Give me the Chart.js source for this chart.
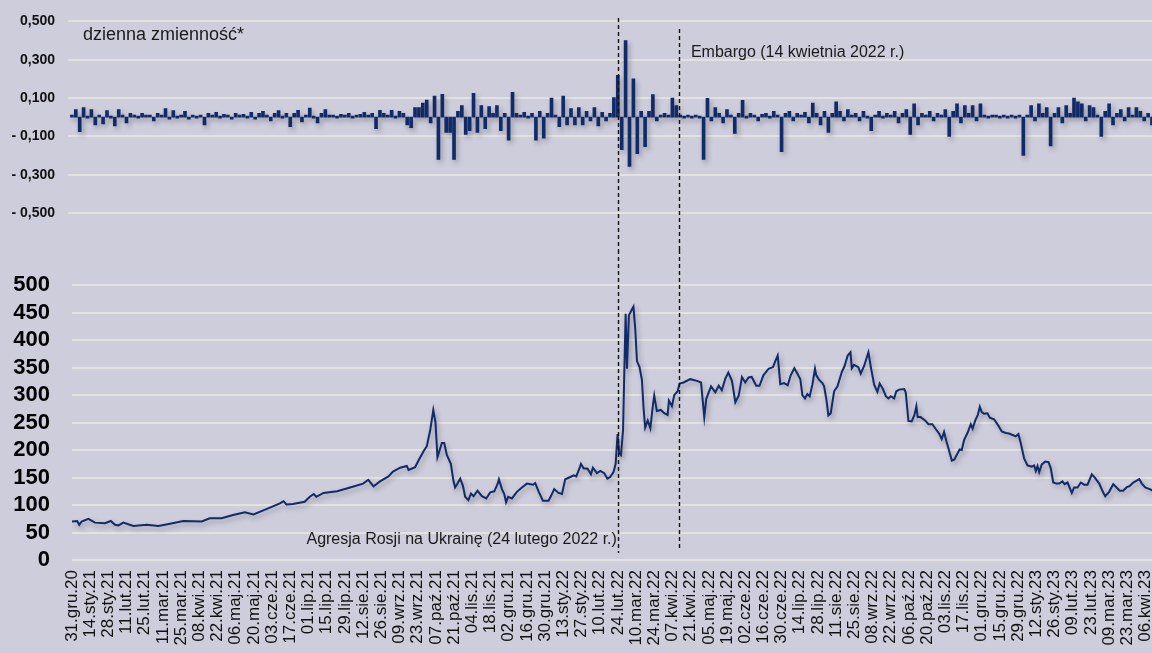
<!DOCTYPE html>
<html lang="pl">
<head>
<meta charset="utf-8">
<title>Ceny węgla – dzienna zmienność</title>
<script src="https://cdn.jsdelivr.net/npm/chart.js@4.4.1/dist/chart.umd.min.js"></script>
<style>
    html, body { margin: 0; padding: 0; background: #cecddb; overflow: hidden; }
    #wrap { position: relative; width: 1152px; height: 653px; }
    #gora { position: absolute; left: 0; top: 0; width: 1152px; height: 250px; }
    #dol { position: absolute; left: 0; top: 250px; width: 1152px; height: 403px; }
</style>
</head>
<body>
<div id="wrap">
    <div id="gora"><canvas id="zmiennosc"></canvas></div>
    <div id="dol"><canvas id="cena"></canvas></div>
</div>
<script>
// Etykiety osi X (co 14 dni od 31.12.2020)
const etykietyDat = [
    "31.gru.20", "14.sty.21", "28.sty.21", "11.lut.21", "25.lut.21", "11.mar.21", "25.mar.21",
    "08.kwi.21", "22.kwi.21", "06.maj.21", "20.maj.21", "03.cze.21", "17.cze.21", "01.lip.21",
    "15.lip.21", "29.lip.21", "12.sie.21", "26.sie.21", "09.wrz.21", "23.wrz.21", "07.paź.21",
    "21.paź.21", "04.lis.21", "18.lis.21", "02.gru.21", "16.gru.21", "30.gru.21", "13.sty.22",
    "27.sty.22", "10.lut.22", "24.lut.22", "10.mar.22", "24.mar.22", "07.kwi.22", "21.kwi.22",
    "05.maj.22", "19.maj.22", "02.cze.22", "16.cze.22", "30.cze.22", "14.lip.22", "28.lip.22",
    "11.sie.22", "25.sie.22", "08.wrz.22", "22.wrz.22", "06.paź.22", "20.paź.22", "03.lis.22",
    "17.lis.22", "01.gru.22", "15.gru.22", "29.gru.22", "12.sty.23", "26.sty.23", "09.lut.23",
    "23.lut.23", "09.mar.23", "23.mar.23", "06.kwi.23",
];
const krokEtykiet = 14; // dni
const ostatniDzien = 831;

// Cena (dzień liczony od 31.12.2020, wartość)
const dniCeny = [
    0, 4, 5.6, 7.4, 12.6, 17.7, 25.4, 29.8, 33.1, 35.7, 39.5, 47.2, 57.5, 66.5, 75.4, 85.7, 99.8,
    106, 115, 124, 133, 139.6, 150, 160, 162.7, 165, 170, 179, 183, 186, 188, 193.5, 204, 214,
    224, 228, 232, 237, 243.5, 247, 252.5, 257.6, 259, 264, 266.6, 270.5, 273, 275.6, 278, 279.7,
    281.2, 284.6, 286.4, 288.4, 291.5, 293.5, 294.8, 296.6, 298.7, 300.8, 302.5, 305, 307, 309,
    312, 315.4, 318.7, 321.8, 324.9, 327.4, 328.5, 330.8, 332.6, 334, 335.6, 338.5, 342.3, 346.2,
    350, 354.7, 356.4, 359, 362.3, 366.7, 369.3, 371, 374.4, 377, 379.5, 383.4, 386, 388, 390.5,
    391.6, 393.6, 396.7, 399.3, 400.8, 403.9, 406.5, 409.5, 412, 414, 416.7, 418.3, 419.8, 421,
    422.4, 424, 425, 426, 427, 428.5, 430.6, 432, 433.4, 434.7, 436.7, 438.5, 439.8, 441, 443,
    445, 447, 448, 450, 453, 455.7, 458.3, 459.3, 461.6, 463.4, 466, 467.5, 470.6, 475.7, 480.9,
    484, 486.5, 488, 491.7, 495, 497.6, 500, 502.7, 505, 507.8, 510.4, 513, 515.5, 518, 520.6,
    523, 526.5, 529, 532, 536, 539.4, 541, 543, 545, 548, 550.7, 553, 555.8, 558, 560.4, 562,
    564, 565.8, 567.6, 569.7, 571.7, 572.7, 574.8, 577.4, 578.7, 580.4, 582, 583.8, 586.4, 589,
    592.3, 594.3, 596.9, 599, 600, 601.7, 605, 606.9, 609.5, 612.8, 614.6, 617.2, 619.7, 621.5,
    624, 626.2, 628.2, 630, 632.6, 634.3, 636.4, 640.3, 641.5, 643.6, 646.1, 648.2, 649.7, 650.7,
    653, 656.4, 659, 662, 665, 667.2, 669.2, 671, 672.8, 675, 677, 679, 680.5, 683, 684.6, 686.4,
    689, 691.6, 693, 695, 697, 698.5, 700, 701.8, 704.4, 706.2, 709.5, 712.9, 715.4, 718.5, 721,
    724.2, 726.2, 728.2, 730, 732.6, 735.2, 738.5, 740.3, 741.6, 742.9, 744.2, 746.2, 748.8,
    751.4, 753.1, 755, 757.5, 759.6, 762.1, 763.7, 766, 769.3, 771.1, 773.7, 776.2, 778.8, 781.4,
    784.7, 787.3, 790.4, 793, 795, 798, 801.2, 803.7, 806.2, 808.8, 811.4, 814, 816.6, 821.2,
    823.2, 825.8, 830.1, 831.4,
];
const wartosciCeny = [
    70, 71, 64, 70, 75, 68, 67, 71, 64, 63, 68, 62, 64, 62, 66, 71, 70,
    76, 76, 82, 87, 83, 93, 103, 107, 101, 102, 106, 115, 120, 115, 122, 125, 132,
    139, 146, 134, 143, 152, 161, 168, 171, 164, 169, 181, 198, 207, 236, 273, 250,
    187, 213, 213, 191, 175, 144, 132, 139, 148, 135, 115, 109, 121, 116,
    126, 116, 112, 123, 125, 138, 147, 129, 120, 105, 115, 112, 124, 132,
    139, 137, 140, 125, 108, 108, 120, 129, 122, 120, 147, 151, 154, 152, 167,
    175, 167, 166, 156, 168, 158, 162, 158, 148, 151, 160, 175, 229, 195,
    191, 236, 345, 448, 348, 445, 455, 461, 420, 362, 351, 328, 276, 241, 254,
    240, 282, 299, 271, 273, 267, 264, 290, 280, 300, 307, 321, 323, 329, 326,
    323, 260, 293, 316, 305, 317, 309, 330, 341, 326, 287, 299, 333, 323, 332,
    333, 317, 317, 336, 348, 351, 361, 372, 320, 322, 318, 336, 349, 340, 329, 300,
    294, 302, 298, 319, 348, 336, 328, 322, 316, 293, 263, 267, 307, 316,
    342, 352, 372, 378, 349, 355, 351, 339, 353, 378, 352, 319, 306, 321,
    311, 298, 294, 298, 294, 307, 310, 311, 305, 253, 252, 264, 280, 260,
    260, 254, 247, 247, 237, 230, 220, 233, 216, 198, 181, 183, 190, 201, 200, 218,
    231, 247, 239, 254, 264, 279, 269, 266, 267, 259, 256, 244, 234, 231, 230,
    227, 225, 229, 213, 185, 172, 170, 172, 162, 171, 160, 174, 179,
    178, 167, 141, 139, 139, 143, 138, 141, 122, 132, 132, 141, 137, 137,
    156, 149, 139, 125, 116, 124, 138, 132, 126, 126, 132, 135, 141, 147,
    139, 132, 128, 126,
];
const tickiCeny = [0, 50, 100, 150, 200, 250, 300, 350, 400, 450, 500];

// Dzienna zmienność (co 3 dni)
const krokZmiennosci = 3;
const wartosciZmiennosci = [
    0.01, 0.04, -0.076, 0.05, 0.0, 0.04, -0.04, 0.01, -0.035, 0.035,
    0.0, -0.045, 0.04, 0.01, -0.03, 0.02, 0.01, 0.0, 0.02, 0.005,
    0.01, -0.02, 0.02, 0.01, 0.045, -0.01, 0.035, 0.0, 0.01, 0.03,
    -0.01, 0.01, 0.0, 0.005, -0.04, 0.02, 0.01, 0.025, 0.0, 0.015,
    0.01, -0.01, 0.02, 0.005, 0.015, 0.0, 0.025, -0.005, 0.02, 0.03,
    0.01, -0.02, 0.02, 0.035, 0.0, 0.02, -0.05, 0.02, 0.036, -0.024,
    0.01, 0.047, 0.0, -0.03, 0.02, 0.04, 0.005, 0.01, 0.0, 0.015,
    0.005, 0.02, 0.0, 0.01, 0.015, 0.025, 0.005, 0.02, -0.06, 0.036,
    0.02, 0.01, 0.036, 0.0, 0.03, 0.02, -0.04, -0.055, 0.05, 0.05,
    0.074, 0.09, -0.03, 0.11, -0.22, 0.12, -0.08, -0.08, -0.22, 0.03,
    0.06, -0.09, -0.07, 0.124, -0.08, 0.06, -0.06, 0.055, 0.02, 0.06,
    -0.07, 0.02, -0.12, 0.13, 0.02, 0.01, 0.025, 0.0, 0.02, -0.12,
    0.03, -0.11, 0.02, 0.1, 0.01, -0.05, 0.11, -0.04, 0.045, -0.04,
    0.05, -0.04, 0.03, -0.02, 0.05, -0.045, 0.025, -0.02, 0.02, 0.103,
    0.218, -0.17, 0.4, -0.257, 0.2, -0.19, 0.03, -0.154, 0.03, 0.118,
    -0.02, 0.01, 0.02, 0.01, 0.1, 0.06, 0.005, 0.0, 0.005, 0.0,
    0.005, 0.0, -0.22, 0.098, -0.02, 0.05, 0.02, -0.03, 0.04, 0.01,
    -0.085, 0.02, 0.088, 0.0, 0.02, 0.01, -0.02, 0.015, 0.02, 0.0,
    0.03, 0.01, -0.18, 0.02, 0.03, -0.02, 0.02, 0.01, 0.025, -0.03,
    0.074, 0.02, -0.04, 0.03, -0.08, 0.02, 0.08, 0.03, -0.02, 0.04,
    0.01, 0.02, -0.02, 0.03, 0.0, -0.07, 0.01, 0.03, 0.0, 0.02,
    0.01, 0.03, -0.03, 0.02, 0.04, -0.09, 0.07, -0.04, 0.02, 0.01,
    0.03, -0.02, 0.02, 0.01, 0.04, -0.1, 0.03, 0.07, -0.03, 0.06,
    0.02, 0.06, -0.02, 0.07, 0.01, 0.0, 0.01, 0.005, 0.0, 0.01,
    0.0, 0.005, 0.0, 0.01, -0.2, 0.01, 0.06, -0.02, 0.07, 0.02,
    0.05, -0.15, 0.02, 0.05, -0.03, 0.06, 0.02, 0.1, 0.08, 0.07,
    -0.02, 0.06, 0.05, 0.01, -0.1, 0.03, 0.07, -0.04, 0.02, 0.04,
    -0.02, 0.05, 0.01, 0.05, 0.03, -0.02, 0.02, -0.04,
];

// Podziałka górnego wykresu
const tickiZmiennosci = [0.5, 0.3, 0.1, -0.1, -0.3, -0.5];
const etykietyZmiennosci = ["0,500", "0,300", "0,100", "- 0,100", "- 0,300", "- 0,500"];

// Zdarzenia (dzień od 31.12.2020)
const dzienAgresji = 420;
const dzienEmbargo = 467;
const opisAgresji = "Agresja Rosji na Ukrainę (24 lutego 2022 r.)";
const opisEmbargo = "Embargo (14 kwietnia 2022 r.)";
const opisZmiennosci = "dzienna zmienność*";

const GRANAT = "#112a68";
const SIATKA = "#e3e2de";
const FONT = "'Liberation Sans', Arial, sans-serif";

Chart.defaults.font.family = FONT;
Chart.defaults.color = "#111";

// Cień pod seriami
const cien = {
    id: "cien",
    beforeDatasetsDraw(chart) {
        const c = chart.ctx;
        c.save();
        c.shadowColor = "rgba(40, 40, 60, 0.35)";
        c.shadowBlur = 5;
        c.shadowOffsetX = 2;
        c.shadowOffsetY = 3;
    },
    afterDatasetsDraw(chart) {
        chart.ctx.restore();
    },
};

// Linie przerywane i opisy
function zdarzenia(linie, teksty) {
    return {
        id: "zdarzenia",
        afterDatasetsDraw(chart) {
            const c = chart.ctx;
            const x = chart.scales.x;
            c.save();
            c.strokeStyle = "#111";
            c.lineWidth = 1.4;
            c.setLineDash([4, 3]);
            linie.forEach((l) => {
                const px = Math.round(x.getPixelForValue(l.dzien)) + 0.5;
                c.beginPath();
                c.moveTo(px, l.od);
                c.lineTo(px, l.do);
                c.stroke();
            });
            c.setLineDash([]);
            c.fillStyle = "#1a1a1a";
            c.textBaseline = "middle";
            teksty.forEach((t) => {
                const px = t.dzien !== undefined ? x.getPixelForValue(t.dzien) + t.dx : t.x;
                c.font = (t.size || 16) + "px " + FONT;
                c.textAlign = t.align || "left";
                c.fillText(t.tekst, px, t.y);
            });
            c.restore();
        },
    };
}

// Górny wykres – zmienność
new Chart(document.getElementById("zmiennosc"), {
    type: "bar",
    data: {
        datasets: [
            {
                data: wartosciZmiennosci.map((v, i) => ({ x: i * krokZmiennosci, y: v })),
                backgroundColor: GRANAT,
                barThickness: 3,
                minBarLength: 2,
            },
        ],
    },
    options: {
        responsive: true,
        maintainAspectRatio: false,
        animation: false,
        layout: { padding: { top: 20, bottom: 37, left: 0, right: 0 } },
        plugins: { legend: { display: false }, tooltip: { enabled: false } },
        scales: {
            x: {
                type: "linear",
                min: -3,
                max: ostatniDzien,
                offset: false,
                display: false,
                grid: { display: false, offset: false },
            },
            y: {
                min: -0.5,
                max: 0.5,
                afterBuildTicks: (s) => { s.ticks = tickiZmiennosci.map((v) => ({ value: v })); },
                afterFit: (s) => { s.width = 68; },
                border: { display: false },
                grid: { color: SIATKA, lineWidth: 2, drawTicks: false },
                ticks: {
                    padding: 13,
                    color: "#111",
                    font: { size: 14, weight: "bold" },
                    callback: (v, i) => etykietyZmiennosci[i],
                },
            },
        },
    },
    plugins: [
        cien,
        zdarzenia(
            [
                { dzien: dzienAgresji, od: 18, do: 250 },
                { dzien: dzienEmbargo, od: 29, do: 250 },
            ],
            [
                { tekst: opisZmiennosci, x: 83, y: 35, size: 18 },
                { tekst: opisEmbargo, dzien: dzienEmbargo, dx: 12, y: 53 },
            ]
        ),
    ],
});

// Dolny wykres – cena
new Chart(document.getElementById("cena"), {
    type: "line",
    data: {
        datasets: [
            {
                data: dniCeny.map((d, i) => ({ x: d, y: wartosciCeny[i] })),
                borderColor: GRANAT,
                borderWidth: 2,
                pointRadius: 0,
                tension: 0,
                fill: false,
            },
        ],
    },
    options: {
        responsive: true,
        maintainAspectRatio: false,
        animation: false,
        layout: { padding: { top: 20, bottom: 0, left: 0, right: 0 } },
        plugins: { legend: { display: false }, tooltip: { enabled: false } },
        scales: {
            x: {
                type: "linear",
                min: 0,
                max: ostatniDzien,
                afterBuildTicks: (s) => { s.ticks = etykietyDat.map((_, i) => ({ value: i * krokEtykiet })); },
                afterFit: (s) => { s.height = 93; s.paddingLeft = 0; s.paddingRight = 0; },
                border: { display: false },
                grid: { display: false, drawTicks: false },
                ticks: {
                    autoSkip: false,
                    maxRotation: 90,
                    minRotation: 90,
                    padding: 10,
                    color: "#111",
                    font: { size: 17 },
                    callback: (v, i) => etykietyDat[i],
                },
            },
            y: {
                min: 0,
                max: 500,
                afterBuildTicks: (s) => { s.ticks = tickiCeny.map((v) => ({ value: v })); },
                afterFit: (s) => { s.width = 72; },
                border: { display: false },
                grid: { color: SIATKA, lineWidth: 2, drawTicks: false },
                ticks: {
                    autoSkip: false,
                    padding: 22,
                    color: "#000",
                    font: { size: 22, weight: "bold" },
                },
            },
        },
    },
    plugins: [
        cien,
        zdarzenia(
            [
                { dzien: dzienAgresji, od: 0, do: 303 },
                { dzien: dzienEmbargo, od: 0, do: 298 },
            ],
            [{ tekst: opisAgresji, dzien: dzienAgresji, dx: -1, y: 290, align: "right" }]
        ),
    ],
});
</script>
</body>
</html>
